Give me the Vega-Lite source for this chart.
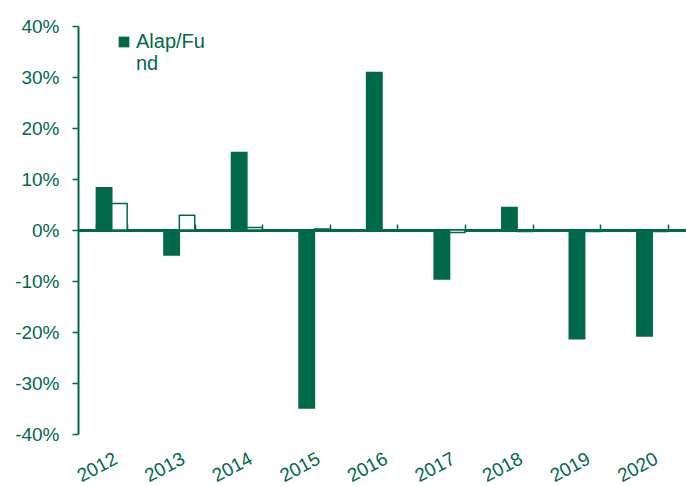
{
  "$schema": "https://vega.github.io/schema/vega-lite/v6.json",
  "autosize": "none",
  "width": 608,
  "height": 408,
  "padding": {"left": 78, "top": 26, "right": 0, "bottom": 52},
  "config": {
    "view": {"stroke": null},
    "font": "Liberation Sans",
    "axis": {"labelFont": "Liberation Sans", "labelColor": "#00694A", "labelFontSize": 19, "domainColor": "#00694A", "tickColor": "#00694A", "grid": false, "title": null},
    "legend": {"labelFont": "Liberation Sans"}
  },
  "data": {
    "values": [
      {"year": "2012", "series": "Alap/Fund", "value": 0.083},
      {"year": "2012", "series": "Referenciaindex", "value": 0.052},
      {"year": "2013", "series": "Alap/Fund", "value": -0.049},
      {"year": "2013", "series": "Referenciaindex", "value": 0.029},
      {"year": "2014", "series": "Alap/Fund", "value": 0.152},
      {"year": "2014", "series": "Referenciaindex", "value": 0.005},
      {"year": "2015", "series": "Alap/Fund", "value": -0.349},
      {"year": "2015", "series": "Referenciaindex", "value": 0.002},
      {"year": "2016", "series": "Alap/Fund", "value": 0.309},
      {"year": "2016", "series": "Referenciaindex", "value": -0.002},
      {"year": "2017", "series": "Alap/Fund", "value": -0.096},
      {"year": "2017", "series": "Referenciaindex", "value": -0.005},
      {"year": "2018", "series": "Alap/Fund", "value": 0.044},
      {"year": "2018", "series": "Referenciaindex", "value": -0.003},
      {"year": "2019", "series": "Alap/Fund", "value": -0.213},
      {"year": "2019", "series": "Referenciaindex", "value": -0.003},
      {"year": "2020", "series": "Alap/Fund", "value": -0.208},
      {"year": "2020", "series": "Referenciaindex", "value": -0.003}
    ]
  },
  "resolve": {"axis": {"x": "independent"}},
  "layer": [
    {
      "mark": {"type": "bar", "stroke": "#00694A", "strokeWidth": 1.5},
      "encoding": {
        "x": {
          "field": "year", "type": "nominal",
          "scale": {"paddingInner": 0.544, "paddingOuter": 0.272},
          "axis": {"domain": false, "ticks": false, "labelAngle": -28, "labelAlign": "right", "labelBaseline": "top", "labelOffset": 0, "labelPadding": 15, "labelFontSize": 19}
        },
        "xOffset": {"field": "series", "type": "nominal", "scale": {"paddingInner": 0, "paddingOuter": 0}},
        "y": {
          "field": "value", "type": "quantitative",
          "scale": {"domain": [-0.4, 0.4]},
          "axis": {"values": [-0.4, -0.3, -0.2, -0.1, 0, 0.1, 0.2, 0.3, 0.4], "labelExpr": "(datum.value < 0 ? '-' : '') + format(abs(datum.value) * 100, '.0f') + '%'", "domainWidth": 2, "tickSize": 6, "tickWidth": 1.5, "labelPadding": 13}
        },
        "fill": {
          "field": "series", "type": "nominal",
          "scale": {"domain": ["Alap/Fund", "Referenciaindex"], "range": ["#00694A", "#ffffff"]},
          "legend": {"values": ["Alap/Fund"], "title": null, "orient": "none", "legendX": 36, "legendY": 6, "symbolType": "square", "symbolSize": 115, "symbolStrokeWidth": 0, "labelFontSize": 20, "labelColor": "#00694A", "labelExpr": "['Alap/Fu', 'nd']", "labelOffset": 2}
        }
      }
    },
    {
      "mark": {"type": "rule", "opacity": 0},
      "encoding": {
        "x": {
          "field": "year", "type": "nominal",
          "axis": {"labels": false, "domain": true, "domainWidth": 3, "ticks": true, "tickBand": "extent", "tickSize": 6, "tickWidth": 1.5, "offset": -204}
        }
      }
    }
  ]
}
